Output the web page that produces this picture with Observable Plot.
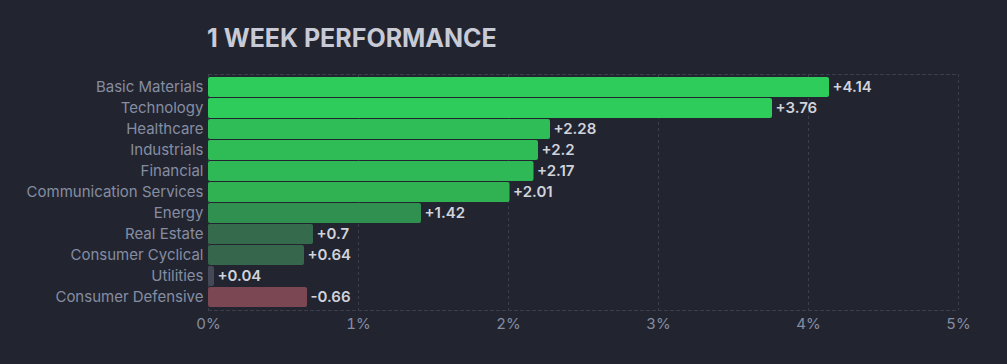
<!DOCTYPE html>
<html>
<head>
<meta charset="utf-8">
<script src="https://cdn.jsdelivr.net/npm/d3@7"></script>
<script src="https://cdn.jsdelivr.net/npm/@observablehq/plot@0.6"></script>
<style>
  html, body { margin: 0; padding: 0; background: #22252f; width: 1007px; height: 364px; overflow: hidden; }
  #title { height: 64px; box-sizing: border-box; padding-left: 207px; padding-top: 21px; font-family: Inter, sans-serif; font-weight: 700; font-size: 25px; line-height: 34px; color: #c8cad6; }
  #chart svg { display: block; }
</style>
</head>
<body>
<div id="title">1 WEEK PERFORMANCE</div>
<div id="chart"></div>
<script>
const sectors = ["Basic Materials", "Technology", "Healthcare", "Industrials", "Financial", "Communication Services", "Energy", "Real Estate", "Consumer Cyclical", "Utilities", "Consumer Defensive"];
const changes = [4.14, 3.76, 2.28, 2.2, 2.17, 2.01, 1.42, 0.7, 0.64, 0.04, -0.66];
const barColors = ["#2ecc5b", "#2ecc5b", "#2fbd57", "#2fbb56", "#2fb956", "#30b152", "#30904f", "#356a4c", "#36664b", "#444857", "#7a4752"];
const xTicks = [0, 1, 2, 3, 4, 5];

const data = sectors.map((s, i) => ({
  sector: s,
  value: changes[i],
  abs: Math.abs(changes[i]),
  color: barColors[i],
  label: (changes[i] > 0 ? "+" : "") + changes[i]
}));

const gridColor = "#3b3f4c";
const chart = Plot.plot({
  width: 1007,
  height: 300,
  marginLeft: 208,
  marginRight: 49,
  marginTop: 10,
  marginBottom: 54,
  style: { background: "transparent", fontFamily: "Inter, sans-serif", fontSize: "15px", color: "#868da3" },
  x: { domain: [0, 5], ticks: xTicks, tickFormat: d => d + "%", label: null },
  y: { domain: sectors, label: null, padding: 0.07 },
  marks: [
    Plot.gridX(xTicks, { stroke: gridColor, strokeOpacity: 1, strokeDasharray: "3,3" }),
    Plot.frame({ anchor: "top", stroke: gridColor, strokeDasharray: "3,3" }),
    Plot.frame({ anchor: "bottom", stroke: gridColor, strokeDasharray: "3,3" }),
    Plot.barX(data, { x: "abs", y: "sector", fill: "color", rx: 2 }),
    Plot.text(data, { x: "abs", y: "sector", text: "label", textAnchor: "start", dx: 3, fill: "#d0d3dc", fontWeight: 600, fontSize: 15 }),
    Plot.axisY({ tickSize: 0, tickPadding: 5, fontSize: 15, fill: "#868da3" }),
    Plot.axisX({ ticks: xTicks, tickSize: 0, tickPadding: 8, fontSize: 15, fill: "#868da3", tickFormat: d => d + "%" })
  ]
});
document.getElementById("chart").appendChild(chart);
</script>
</body>
</html>
